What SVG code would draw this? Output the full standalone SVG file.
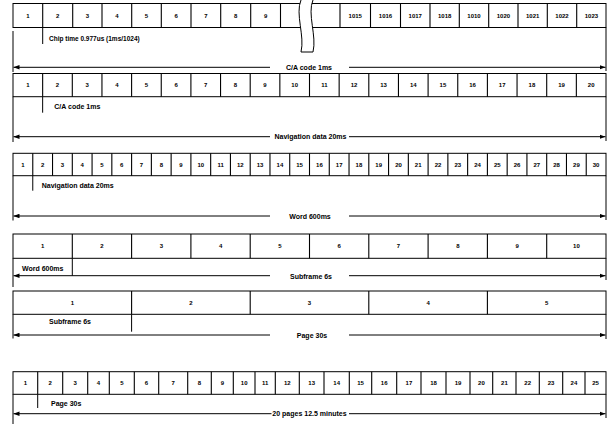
<svg xmlns="http://www.w3.org/2000/svg" width="611" height="425" viewBox="0 0 611 425">
<defs>
<style>
.box{fill:#fff;stroke:#000;stroke-width:1}
.dv{stroke:#000;stroke-width:1.1}
.n{font-family:"Liberation Sans",Arial,sans-serif;font-weight:bold;font-size:6px;text-anchor:middle;fill:#000}
.lb{font-family:"Liberation Sans",Arial,sans-serif;font-weight:bold;font-size:7px;fill:#000}
.lc{font-family:"Liberation Sans",Arial,sans-serif;font-weight:bold;font-size:7px;fill:#000;text-anchor:middle}
.ln{stroke:#000;stroke-width:1;fill:none}
</style>
<marker id="ah" viewBox="0 0 8 6" refX="8" refY="3" markerWidth="6" markerHeight="4.5" markerUnits="userSpaceOnUse" orient="auto">
<path d="M0,0 L8,3 L0,6 Z" fill="#000"/>
</marker>
</defs>
<rect width="611" height="425" fill="#fff"/>

<g id="row1">
<rect class="box" x="13" y="3.5" width="593" height="24"/>
<g class="dv">
<line x1="42.7" y1="3.5" x2="42.7" y2="27.5"/><line x1="72.7" y1="3.5" x2="72.7" y2="27.5"/><line x1="102" y1="3.5" x2="102" y2="27.5"/><line x1="131.7" y1="3.5" x2="131.7" y2="27.5"/><line x1="161.3" y1="3.5" x2="161.3" y2="27.5"/><line x1="191" y1="3.5" x2="191" y2="27.5"/><line x1="220.7" y1="3.5" x2="220.7" y2="27.5"/><line x1="250.7" y1="3.5" x2="250.7" y2="27.5"/><line x1="280.5" y1="3.5" x2="280.5" y2="27.5"/><line x1="340" y1="3.5" x2="340" y2="27.5"/><line x1="370.5" y1="3.5" x2="370.5" y2="27.5"/><line x1="400.5" y1="3.5" x2="400.5" y2="27.5"/><line x1="430" y1="3.5" x2="430" y2="27.5"/><line x1="459.3" y1="3.5" x2="459.3" y2="27.5"/><line x1="488.7" y1="3.5" x2="488.7" y2="27.5"/><line x1="518" y1="3.5" x2="518" y2="27.5"/><line x1="547.3" y1="3.5" x2="547.3" y2="27.5"/><line x1="576.7" y1="3.5" x2="576.7" y2="27.5"/>
</g>
<g class="n">
<text x="27.9" y="17.7">1</text><text x="57.7" y="17.7">2</text><text x="87.3" y="17.7">3</text><text x="116.9" y="17.7">4</text><text x="146.5" y="17.7">5</text><text x="176.2" y="17.7">6</text><text x="205.9" y="17.7">7</text><text x="235.7" y="17.7">8</text><text x="265.6" y="17.7">9</text>
<text x="355.3" y="17.7">1015</text><text x="385.5" y="17.7">1016</text><text x="415.3" y="17.7">1017</text><text x="444.7" y="17.7">1018</text><text x="474" y="17.7">1010</text><text x="503.4" y="17.7">1020</text><text x="532.7" y="17.7">1021</text><text x="562" y="17.7">1022</text><text x="591.4" y="17.7">1023</text>
</g>
<path d="M301,0 C295,14 305,36 301,52 L313,52 C317,36 307,14 313,0 Z" fill="#fff"/>
<path class="ln" d="M301,0 C295,14 305,36 301,52 L313,52 C317,36 307,14 313,0"/>
<text class="lb" x="49" y="40.5" style="font-size:6.5px">Chip time 0.977us (1ms/1024)</text>
</g>

<g id="row2">
<rect class="box" x="13" y="73.5" width="593" height="23.2"/>
<g class="dv">
<line x1="42.65" y1="73.5" x2="42.65" y2="96.7"/><line x1="72.3" y1="73.5" x2="72.3" y2="96.7"/><line x1="101.95" y1="73.5" x2="101.95" y2="96.7"/><line x1="131.6" y1="73.5" x2="131.6" y2="96.7"/><line x1="161.25" y1="73.5" x2="161.25" y2="96.7"/><line x1="190.9" y1="73.5" x2="190.9" y2="96.7"/><line x1="220.55" y1="73.5" x2="220.55" y2="96.7"/><line x1="250.2" y1="73.5" x2="250.2" y2="96.7"/><line x1="279.85" y1="73.5" x2="279.85" y2="96.7"/><line x1="309.5" y1="73.5" x2="309.5" y2="96.7"/><line x1="339.15" y1="73.5" x2="339.15" y2="96.7"/><line x1="368.8" y1="73.5" x2="368.8" y2="96.7"/><line x1="398.45" y1="73.5" x2="398.45" y2="96.7"/><line x1="428.1" y1="73.5" x2="428.1" y2="96.7"/><line x1="457.75" y1="73.5" x2="457.75" y2="96.7"/><line x1="487.4" y1="73.5" x2="487.4" y2="96.7"/><line x1="517.05" y1="73.5" x2="517.05" y2="96.7"/><line x1="546.7" y1="73.5" x2="546.7" y2="96.7"/><line x1="576.35" y1="73.5" x2="576.35" y2="96.7"/>
</g>
<g class="n">
<text x="27.8" y="87.3">1</text><text x="57.5" y="87.3">2</text><text x="87.1" y="87.3">3</text><text x="116.8" y="87.3">4</text><text x="146.4" y="87.3">5</text><text x="176.1" y="87.3">6</text><text x="205.7" y="87.3">7</text><text x="235.4" y="87.3">8</text><text x="265" y="87.3">9</text><text x="294.7" y="87.3">10</text><text x="324.3" y="87.3">11</text><text x="354" y="87.3">12</text><text x="383.6" y="87.3">13</text><text x="413.3" y="87.3">14</text><text x="442.9" y="87.3">15</text><text x="472.6" y="87.3">16</text><text x="502.2" y="87.3">17</text><text x="531.9" y="87.3">18</text><text x="561.5" y="87.3">19</text><text x="591.2" y="87.3">20</text>
</g>
<text class="lb" x="54.3" y="109.2">C/A code 1ms</text>
</g>

<g id="row3">
<rect class="box" x="13" y="153.3" width="593" height="22.4"/>
<g class="dv">
<line x1="32.77" y1="153.3" x2="32.77" y2="175.7"/><line x1="52.53" y1="153.3" x2="52.53" y2="175.7"/><line x1="72.3" y1="153.3" x2="72.3" y2="175.7"/><line x1="92.07" y1="153.3" x2="92.07" y2="175.7"/><line x1="111.83" y1="153.3" x2="111.83" y2="175.7"/><line x1="131.6" y1="153.3" x2="131.6" y2="175.7"/><line x1="151.37" y1="153.3" x2="151.37" y2="175.7"/><line x1="171.13" y1="153.3" x2="171.13" y2="175.7"/><line x1="190.9" y1="153.3" x2="190.9" y2="175.7"/><line x1="210.67" y1="153.3" x2="210.67" y2="175.7"/><line x1="230.43" y1="153.3" x2="230.43" y2="175.7"/><line x1="250.2" y1="153.3" x2="250.2" y2="175.7"/><line x1="269.97" y1="153.3" x2="269.97" y2="175.7"/><line x1="289.73" y1="153.3" x2="289.73" y2="175.7"/><line x1="309.5" y1="153.3" x2="309.5" y2="175.7"/><line x1="329.27" y1="153.3" x2="329.27" y2="175.7"/><line x1="349.03" y1="153.3" x2="349.03" y2="175.7"/><line x1="368.8" y1="153.3" x2="368.8" y2="175.7"/><line x1="388.57" y1="153.3" x2="388.57" y2="175.7"/><line x1="408.33" y1="153.3" x2="408.33" y2="175.7"/><line x1="428.1" y1="153.3" x2="428.1" y2="175.7"/><line x1="447.87" y1="153.3" x2="447.87" y2="175.7"/><line x1="467.63" y1="153.3" x2="467.63" y2="175.7"/><line x1="487.4" y1="153.3" x2="487.4" y2="175.7"/><line x1="507.17" y1="153.3" x2="507.17" y2="175.7"/><line x1="526.93" y1="153.3" x2="526.93" y2="175.7"/><line x1="546.7" y1="153.3" x2="546.7" y2="175.7"/><line x1="566.47" y1="153.3" x2="566.47" y2="175.7"/><line x1="586.23" y1="153.3" x2="586.23" y2="175.7"/>
</g>
<g class="n">
<text x="22.9" y="166.7">1</text><text x="42.7" y="166.7">2</text><text x="62.4" y="166.7">3</text><text x="82.2" y="166.7">4</text><text x="102" y="166.7">5</text><text x="121.7" y="166.7">6</text><text x="141.5" y="166.7">7</text><text x="161.3" y="166.7">8</text><text x="181" y="166.7">9</text><text x="200.8" y="166.7">10</text><text x="220.6" y="166.7">11</text><text x="240.3" y="166.7">12</text><text x="260.1" y="166.7">13</text><text x="279.9" y="166.7">14</text><text x="299.6" y="166.7">15</text><text x="319.4" y="166.7">16</text><text x="339.2" y="166.7">17</text><text x="358.9" y="166.7">18</text><text x="378.7" y="166.7">19</text><text x="398.5" y="166.7">20</text><text x="418.2" y="166.7">21</text><text x="438" y="166.7">22</text><text x="457.8" y="166.7">23</text><text x="477.5" y="166.7">24</text><text x="497.3" y="166.7">25</text><text x="517.1" y="166.7">26</text><text x="536.8" y="166.7">27</text><text x="556.6" y="166.7">28</text><text x="576.4" y="166.7">29</text><text x="596.1" y="166.7">30</text>
</g>
<text class="lb" x="41.7" y="187.5">Navigation data 20ms</text>
</g>

<g id="row4">
<rect class="box" x="13" y="234" width="593" height="24.3"/>
<g class="dv">
<line x1="72.3" y1="234" x2="72.3" y2="258.3"/><line x1="131.6" y1="234" x2="131.6" y2="258.3"/><line x1="190.9" y1="234" x2="190.9" y2="258.3"/><line x1="250.2" y1="234" x2="250.2" y2="258.3"/><line x1="309.5" y1="234" x2="309.5" y2="258.3"/><line x1="368.8" y1="234" x2="368.8" y2="258.3"/><line x1="428.1" y1="234" x2="428.1" y2="258.3"/><line x1="487.4" y1="234" x2="487.4" y2="258.3"/><line x1="546.7" y1="234" x2="546.7" y2="258.3"/>
</g>
<g class="n">
<text x="42.7" y="248.4">1</text><text x="102" y="248.4">2</text><text x="161.3" y="248.4">3</text><text x="220.6" y="248.4">4</text><text x="279.9" y="248.4">5</text><text x="339.2" y="248.4">6</text><text x="398.5" y="248.4">7</text><text x="457.8" y="248.4">8</text><text x="517.1" y="248.4">9</text><text x="576.4" y="248.4">10</text>
</g>
<text class="lc" x="42.7" y="270.5">Word 600ms</text>
</g>

<g id="row5">
<rect class="box" x="13" y="291" width="593" height="23.3"/>
<g class="dv">
<line x1="131.6" y1="291" x2="131.6" y2="314.3"/><line x1="250.2" y1="291" x2="250.2" y2="314.3"/><line x1="368.8" y1="291" x2="368.8" y2="314.3"/><line x1="487.4" y1="291" x2="487.4" y2="314.3"/>
</g>
<g class="n">
<text x="72.3" y="305">1</text><text x="190.9" y="305">2</text><text x="309.5" y="305">3</text><text x="428.1" y="305">4</text><text x="546.7" y="305">5</text>
</g>
<text class="lc" x="70" y="324.2">Subframe 6s</text>
</g>

<g id="row6">
<rect class="box" x="13" y="371.7" width="593" height="22.6"/>
<g class="dv">
<line x1="37.7" y1="371.7" x2="37.7" y2="394.3"/><line x1="62.7" y1="371.7" x2="62.7" y2="394.3"/><line x1="87.7" y1="371.7" x2="87.7" y2="394.3"/><line x1="109.3" y1="371.7" x2="109.3" y2="394.3"/><line x1="134.3" y1="371.7" x2="134.3" y2="394.3"/><line x1="158.7" y1="371.7" x2="158.7" y2="394.3"/><line x1="187.7" y1="371.7" x2="187.7" y2="394.3"/><line x1="211.3" y1="371.7" x2="211.3" y2="394.3"/><line x1="233.3" y1="371.7" x2="233.3" y2="394.3"/><line x1="255" y1="371.7" x2="255" y2="394.3"/><line x1="275.3" y1="371.7" x2="275.3" y2="394.3"/><line x1="299.3" y1="371.7" x2="299.3" y2="394.3"/><line x1="324" y1="371.7" x2="324" y2="394.3"/><line x1="349.3" y1="371.7" x2="349.3" y2="394.3"/><line x1="371.7" y1="371.7" x2="371.7" y2="394.3"/><line x1="396.7" y1="371.7" x2="396.7" y2="394.3"/><line x1="421" y1="371.7" x2="421" y2="394.3"/><line x1="446" y1="371.7" x2="446" y2="394.3"/><line x1="470" y1="371.7" x2="470" y2="394.3"/><line x1="492.7" y1="371.7" x2="492.7" y2="394.3"/><line x1="516" y1="371.7" x2="516" y2="394.3"/><line x1="539.3" y1="371.7" x2="539.3" y2="394.3"/><line x1="562.7" y1="371.7" x2="562.7" y2="394.3"/><line x1="585" y1="371.7" x2="585" y2="394.3"/>
</g>
<g class="n">
<text x="25.4" y="385.2">1</text><text x="50.2" y="385.2">2</text><text x="75.2" y="385.2">3</text><text x="98.5" y="385.2">4</text><text x="121.8" y="385.2">5</text><text x="146.5" y="385.2">6</text><text x="173.2" y="385.2">7</text><text x="199.5" y="385.2">8</text><text x="222.3" y="385.2">9</text><text x="244.2" y="385.2">10</text><text x="265.2" y="385.2">11</text><text x="287.3" y="385.2">12</text><text x="311.7" y="385.2">13</text><text x="336.7" y="385.2">14</text><text x="360.5" y="385.2">15</text><text x="384.2" y="385.2">16</text><text x="408.9" y="385.2">17</text><text x="433.5" y="385.2">18</text><text x="458" y="385.2">19</text><text x="481.4" y="385.2">20</text><text x="504.4" y="385.2">21</text><text x="527.7" y="385.2">22</text><text x="551" y="385.2">23</text><text x="573.9" y="385.2">24</text><text x="595.5" y="385.2">25</text>
</g>
<text class="lb" x="51" y="405.7">Page 30s</text>
</g>

<g id="connectors" class="ln">
<!-- row 1 -->
<line x1="42.7" y1="27.5" x2="42.7" y2="44"/>
<line x1="13" y1="31" x2="13" y2="72"/>
<line x1="606" y1="27.5" x2="606" y2="71"/>
<line x1="270" y1="67.3" x2="13.5" y2="67.3" marker-end="url(#ah)"/>
<line x1="349" y1="67.3" x2="605.5" y2="67.3" marker-end="url(#ah)"/>
<!-- row 2 -->
<line x1="42.65" y1="96.7" x2="42.65" y2="112.7"/>
<line x1="13" y1="96.7" x2="13" y2="142"/>
<line x1="606" y1="96.7" x2="606" y2="141"/>
<line x1="270" y1="136.7" x2="13.5" y2="136.7" marker-end="url(#ah)"/>
<line x1="349" y1="136.7" x2="605.5" y2="136.7" marker-end="url(#ah)"/>
<!-- row 3 -->
<line x1="32.77" y1="175.7" x2="32.77" y2="190.7"/>
<line x1="13" y1="175.7" x2="13" y2="220.5"/>
<line x1="606" y1="175.7" x2="606" y2="220"/>
<line x1="270" y1="216" x2="13.5" y2="216" marker-end="url(#ah)"/>
<line x1="349" y1="216" x2="605.5" y2="216" marker-end="url(#ah)"/>
<!-- row 4 -->
<line x1="72.3" y1="258.3" x2="72.3" y2="275.7"/>
<line x1="13" y1="258.3" x2="13" y2="287"/>
<line x1="606" y1="258.3" x2="606" y2="280"/>
<line x1="270" y1="275.7" x2="13.5" y2="275.7" marker-end="url(#ah)"/>
<line x1="349" y1="275.7" x2="605.5" y2="275.7" marker-end="url(#ah)"/>
<!-- row 5 -->
<line x1="131.6" y1="314.3" x2="131.6" y2="331.7"/>
<line x1="13" y1="314.3" x2="13" y2="338.5"/>
<line x1="606" y1="314.3" x2="606" y2="339"/>
<line x1="270" y1="335" x2="13.5" y2="335" marker-end="url(#ah)"/>
<line x1="349" y1="335" x2="605.5" y2="335" marker-end="url(#ah)"/>
<!-- row 6 -->
<line x1="37.7" y1="394.3" x2="37.7" y2="408"/>
<line x1="13" y1="394.3" x2="13" y2="424"/>
<line x1="606" y1="394.3" x2="606" y2="418"/>
<line x1="271.5" y1="413.7" x2="13.5" y2="413.7" marker-end="url(#ah)"/>
<line x1="349" y1="413.7" x2="605.5" y2="413.7" marker-end="url(#ah)"/>
</g>

<g id="arrow-labels">
<text class="lc" x="309" y="69.8">C/A code 1ms</text>
<text class="lc" x="310.5" y="139.2">Navigation data 20ms</text>
<text class="lc" x="310" y="218.5">Word 600ms</text>
<text class="lc" x="311" y="278.5">Subframe 6s</text>
<text class="lc" x="312" y="337.5">Page 30s</text>
<text class="lc" x="309.5" y="416.2">20 pages 12.5 minutes</text>
</g>
</svg>
